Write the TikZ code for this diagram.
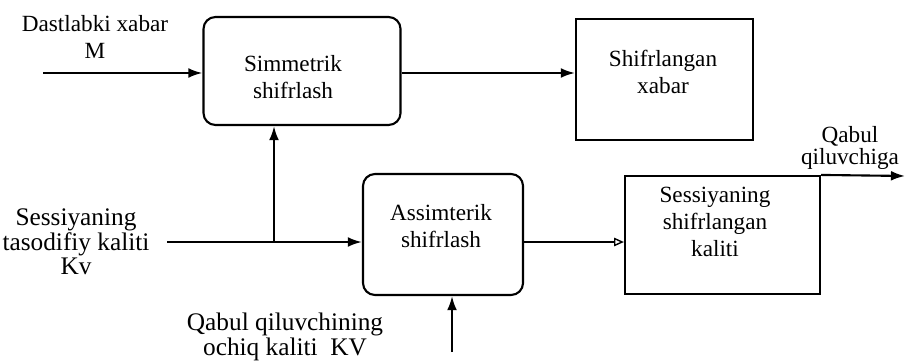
\documentclass[tikz,border=0pt]{standalone}
\usepackage{fontspec}
\setmainfont{Liberation Serif}
\usetikzlibrary{arrows.meta, positioning}

\begin{document}
\begin{tikzpicture}[x=0.025cm, y=-0.025cm, >={Latex[length=10pt, width=7pt]}, line width=1.5pt,
    font=\fontsize{16.5}{19}\selectfont,
    rblock/.style={draw, rounded corners=0.3cm},
    sblock/.style={draw},
    txt/.style={align=center, inner sep=0pt},
    bigtxt/.style={align=center, inner sep=0pt, font=\fontsize{18}{17.5}\selectfont}]
    \useasboundingbox (0,0) rectangle (906,361);

    % blocks
    \node[rblock, minimum width=4.925cm, minimum height=2.7cm] (sym) at (302,71) {};
    \node[txt] (symtxt) at (293,77) {Simmetrik\\shifrlash};
    \node[sblock, minimum width=4.425cm, minimum height=3.025cm] (enc) at (664.5,79.5) {};
    \node[txt] (enctxt) at (663,72) {Shifrlangan\\xabar};
    \node[rblock, minimum width=4cm, minimum height=3.025cm] (asym) at (443,234.5) {};
    \node[txt] (asymtxt) at (441,226) {Assimterik\\shifrlash};
    \node[sblock, minimum width=4.875cm, minimum height=2.95cm] (enckey) at (722.5,235) {};
    \node[txt] (enckeytxt) at (715,222) {Sessiyaning\\shifrlangan\\kaliti};

    % outer labels
    \node[txt] (msg) at (95,37) {Dastlabki xabar\\M};
    \node[bigtxt] (sesskey) at (76,242) {Sessiyaning\\tasodifiy kaliti\\Kv};
    \node[bigtxt] (pubkey) at (285,337) {Qabul qiluvchining\\ochiq kaliti~~KV};
    \node[txt, font=\fontsize{16.5}{15}\selectfont] (recv) at (850,148) {Qabul\\qiluvchiga};

    \coordinate (min) at (43,73);
    \coordinate (kin) at (167,242);
    \coordinate (jn) at (274,242);
    \coordinate (pk) at (452,352);
    \coordinate (out) at (905,176);

    \draw[->] (min) -- (min -| sym.west);
    \draw[->] (sym.east |- min) -- (min -| enc.west);
    \draw[->] (kin) -- (kin -| asym.west);
    \draw[->] (jn) -- (jn |- sym.south);
    \draw[-{Triangle[open, length=7pt, width=6pt]}, line width=1pt] (kin -| asym.east) -- (kin -| enckey.west);
    \draw[->] (pk) -- (pk |- asym.south);
    \draw[->] (enckey.north east) -- (out);
\end{tikzpicture}
\end{document}
